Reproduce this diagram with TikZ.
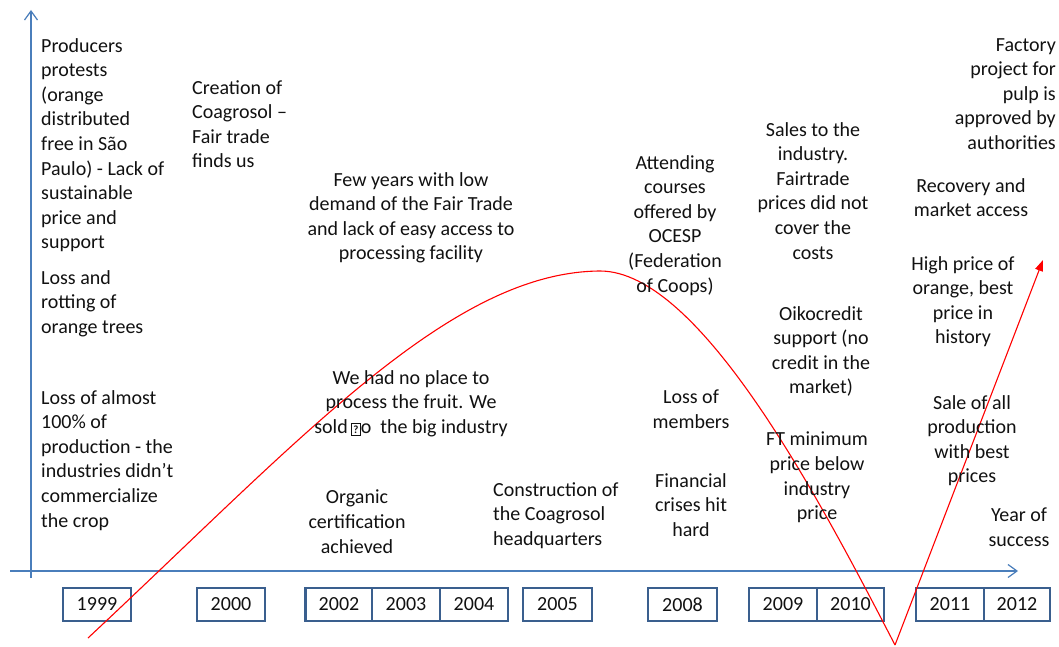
\documentclass[tikz,border=0pt]{standalone}
\usepackage{fontspec}
\setmainfont{Carlito}
\usetikzlibrary{arrows.meta}
\definecolor{axisblue}{HTML}{4A7EBB}
\definecolor{boxblue}{HTML}{3A5F8E}
\definecolor{txt}{HTML}{111111}
\begin{document}
\begin{tikzpicture}[x=1pt,y=-1pt,
  lbl/.style={inner sep=0pt, text=txt, font=\fontsize{20}{24.6}\selectfont},
  lblL/.style={lbl, align=left},
  lblC/.style={lbl, align=center},
  lblR/.style={lbl, align=right},
  yearbox/.style={draw=boxblue, line width=2.4pt, fill=white, minimum height=33pt, inner sep=0pt, text=txt, font=\fontsize{20}{24}\selectfont},
  axis/.style={draw=axisblue, line width=1.5pt, -{Straight Barb[length=9pt,width=13pt,line width=1.2pt]}},
  trend/.style={draw=red, line width=1.1pt}
]
\useasboundingbox (0,0) rectangle (1059,647);

% axes
\coordinate (ybot) at (31,578);
\coordinate (ytop) at (31,10);
\coordinate (xl) at (10,571);
\coordinate (xr) at (1018,571);
\draw[axis] (ybot) -- (ytop);
\draw[axis] (xl) -- (xr);

% year boxes
\node[yearbox, minimum width=68pt] (y1999) at (97,604.5) {1999};
\node[yearbox, minimum width=68pt] (y2000) at (231,604.5) {2000};
\node[yearbox, minimum width=67pt] (y2002) at (339,604.5) {2002};
\node[yearbox, minimum width=68pt] (y2003) at (406,604.5) {2003};
\node[yearbox, minimum width=68pt] (y2004) at (474,604.5) {2004};
\node[yearbox, minimum width=69pt] (y2005) at (557.5,604.5) {2005};
\node[yearbox, minimum width=69pt] (y2008) at (682.5,604.5) {2008};
\node[yearbox, minimum width=68pt] (y2009) at (783,604.5) {2009};
\node[yearbox, minimum width=67pt] (y2010) at (850.5,604.5) {2010};
\node[yearbox, minimum width=68pt] (y2011) at (950,604.5) {2011};
\node[yearbox, minimum width=66pt] (y2012) at (1017,604.5) {2012};

% trend curve
\coordinate (tstart) at (88,638);
\coordinate (tpeak) at (600,271);
\coordinate (tmin) at (895,645);
\coordinate (ttip) at (1043,260);
\draw[trend] (tstart) .. controls (300,440) and (450,272) .. (tpeak)
                      .. controls (700,271) and (820,500) .. (tmin);
\draw[trend, -{Triangle[length=11pt,width=8pt]}] (tmin) -- (ttip);

% labels
\node[lblL, anchor=north west] (t1) at (41,38) {Producers\\protests\\(orange\\distributed\\free in São\\Paulo) - Lack of\\sustainable\\price and\\support};
\node[lblL, anchor=north west] (t2) at (41,270) {Loss and\\rotting of\\orange trees};
\node[lblL, anchor=north west] (t3) at (41,390) {Loss of almost\\100\% of\\production - the\\industries didn’t\\commercialize\\the crop};
\node[lblL, anchor=north west] (t4) at (192,80) {Creation of\\Coagrosol –\\Fair trade\\finds us};
\node[lblC, anchor=north] (t5) at (411,172) {Few years with low\\demand of the Fair Trade\\and lack of easy access to\\processing facility};
\node[lblC, anchor=north] (t6) at (411,370) {We had no place to\\process the fruit. We\\sold\,{\setlength\fboxsep{1.2pt}\setlength\fboxrule{1.1pt}\fbox{\fontsize{11}{11}\selectfont\bfseries ?}}o\ \ the big industry};
\node[lblC, anchor=north] (t7) at (357,490) {Organic\\certification\\achieved};
\node[lblL, anchor=north west] (t8) at (493,482) {Construction of\\the Coagrosol\\headquarters};
\node[lblC, anchor=north] (t9) at (675,155) {Attending\\courses\\offered by\\OCESP\\(Federation\\of Coops)};
\node[lblC, anchor=north] (t10) at (691,390) {Loss of\\members};
\node[lblC, anchor=north] (t11) at (691,473) {Financial\\crises hit\\hard};
\node[lblC, anchor=north] (t12) at (813,122) {Sales to the\\industry.\\Fairtrade\\prices did not\\cover the\\costs};
\node[lblC, anchor=north] (t13) at (821,306) {Oikocredit\\support (no\\credit in the\\market)};
\node[lblC, anchor=north] (t14) at (817,432) {FT minimum\\price below\\industry\\price};
\node[lblR, anchor=north east] (t15) at (1056,38) {Factory\\project for\\pulp is\\approved by\\authorities};
\node[lblC, anchor=north] (t16) at (971,178) {Recovery and\\market access};
\node[lblC, anchor=north] (t17) at (963,256) {High price of\\orange, best\\price in\\history};
\node[lblC, anchor=north] (t18) at (972,395) {Sale of all\\production\\with best\\prices};
\node[lblC, anchor=north] (t19) at (1019,508) {Year of\\success};
\end{tikzpicture}
\end{document}
